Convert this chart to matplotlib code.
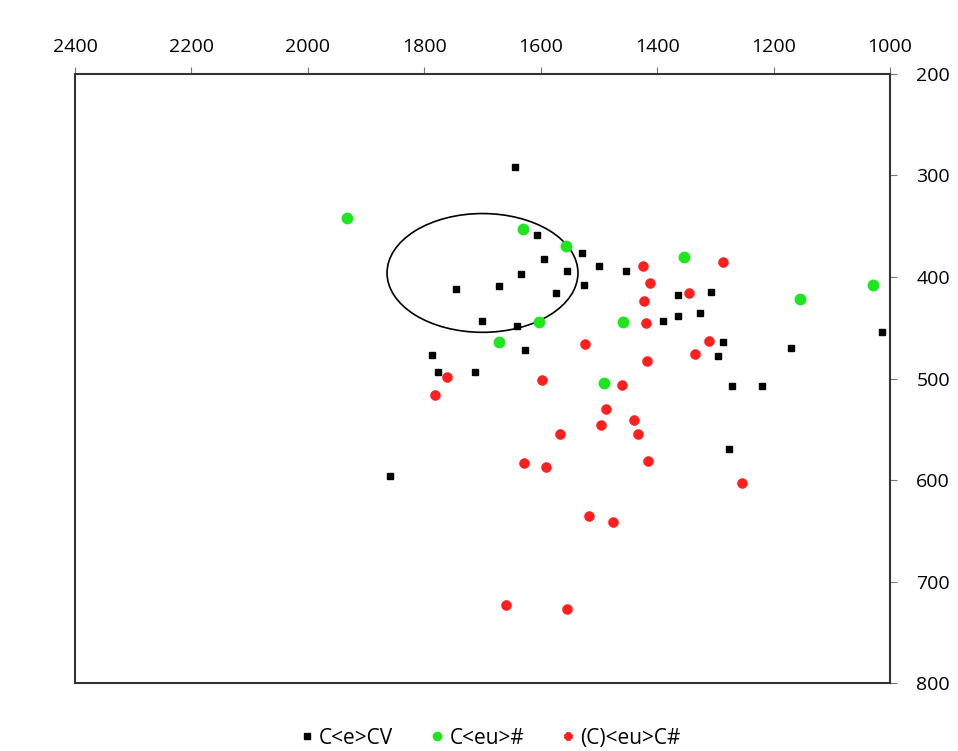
import matplotlib
matplotlib.use("Agg")
import matplotlib.pyplot as plt
from matplotlib.patches import Ellipse

# F2 (x) and F1 (y) values in Hz
cecv_f2 = [1644, 1606, 1529, 1594, 1500, 1453, 1555, 1634, 1745, 1672, 1574,
           1526, 1701, 1641, 1627, 1787, 1776, 1713, 1859, 1364, 1307, 1390,
           1364, 1326, 1287, 1295, 1170, 1014, 1271, 1220, 1277]
cecv_f1 = [292, 359, 376, 382, 389, 394, 394, 397, 412, 409, 416,
           408, 443, 448, 472, 477, 494, 494, 596, 418, 415, 443,
           438, 435, 464, 478, 470, 454, 507, 507, 569]

ceu_f2 = [1933, 1630, 1557, 1603, 1459, 1672, 1491, 1354, 1155, 1029]
ceu_f1 = [342, 353, 369, 444, 444, 464, 504, 380, 422, 408]

pceuc_f2 = [1424, 1287, 1412, 1345, 1423, 1419, 1524, 1311, 1335, 1417, 1761,
            1598, 1782, 1460, 1488, 1440, 1496, 1433, 1567, 1416, 1629, 1591,
            1254, 1517, 1476, 1660, 1555]
pceuc_f1 = [389, 385, 406, 416, 424, 445, 466, 463, 476, 483, 499,
            501, 516, 506, 530, 541, 546, 555, 555, 581, 583, 587,
            603, 635, 641, 723, 727]

labels = ["C<e>CV", "C<eu>#", "(C)<eu>C#"]
x_ticks = [2400, 2200, 2000, 1800, 1600, 1400, 1200, 1000]
y_ticks = [200, 300, 400, 500, 600, 700, 800]

plt.rcParams['font.family'] = ['Open Sans', 'DejaVu Sans']

fig = plt.figure(figsize=(9.58, 7.51), dpi=100)
ax = fig.add_axes([0.0783, 0.0905, 0.8507, 0.811])

ax.plot(cecv_f2, cecv_f1, ls='none', marker='s', ms=5, color='black',
        label=labels[0], zorder=3)
ax.plot(ceu_f2, ceu_f1, ls='none', marker='o', ms=7.5, color='#1ee61e',
        label=labels[1], zorder=3)
ax.plot(pceuc_f2, pceuc_f1, ls='none', marker=(8, 2, 0), ms=7, mew=2.6,
        color='#ff1f1f', label=labels[2], zorder=3)

ax.add_patch(Ellipse((1700, 396), 328, 117, fill=False, ec='black', lw=1.2))

ax.set_xlim(2400, 1000)
ax.set_ylim(800, 200)
ax.set_xticks(x_ticks)
ax.set_yticks(y_ticks)
ax.xaxis.tick_top()
ax.yaxis.tick_right()
ax.tick_params(direction='out', length=5, color='#777777', labelsize=14)
ax.tick_params(axis='x', pad=8)
ax.tick_params(axis='y', pad=14)
for s in ax.spines.values():
    s.set_color('#333333')
    s.set_linewidth(1.5)

leg = fig.legend(loc='lower center', bbox_to_anchor=(0.51, -0.022), ncol=3,
                 frameon=False, fontsize=15, handletextpad=0.1,
                 columnspacing=1.6, handlelength=1.0, markerscale=0.8)

fig.savefig('out.png', dpi=100)
